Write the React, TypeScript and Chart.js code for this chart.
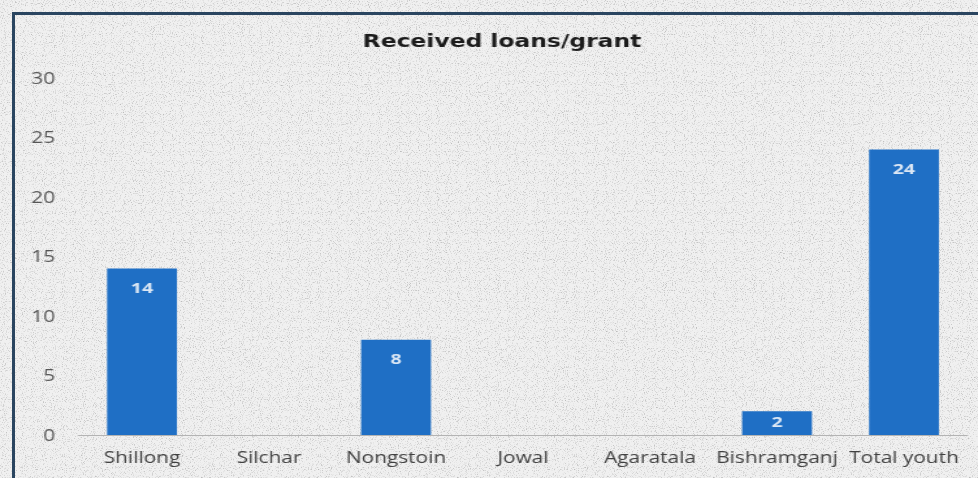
import React, { useEffect, useRef } from "react";
import { Chart, registerables } from "chart.js";

Chart.register(...registerables);

const categories = ["Shillong", "Silchar", "Nongstoin", "Jowal", "Agaratala", "Bishramganj", "Total youth"];
const values: (number | null)[] = [14, null, 8, null, null, 2, 24];
const yMin = 0;
const yMax = 30;
const yStep = 5;
const chartTitle = "Received loans/grant";

const PAGE_W = 978;
const PAGE_H = 478;
const CANVAS_W = 752; // drawn narrower, then stretched horizontally like the reference
const SX = PAGE_W / CANVAS_W;

const noiseSvg =
  "<svg xmlns='http://www.w3.org/2000/svg' width='256' height='256'>" +
  "<filter id='n'><feTurbulence type='fractalNoise' baseFrequency='0.9' numOctaves='2' stitchTiles='stitch'/>" +
  "<feColorMatrix values='0 0 0 0 0.5  0 0 0 0 0.5  0 0 0 0 0.5  3.2 0 0 0 -1.7'/></filter>" +
  "<rect width='100%' height='100%' filter='url(#n)'/></svg>";
const noiseUrl = `url("data:image/svg+xml,${encodeURIComponent(noiseSvg)}")`;

const titlePlugin = {
  id: "offsetTitle",
  afterDraw(chart: any) {
    const ctx = chart.ctx;
    ctx.save();
    ctx.font = "bold 18px 'DejaVu Sans'";
    ctx.fillStyle = "#1c1c1c";
    ctx.textAlign = "center";
    ctx.textBaseline = "middle";
    ctx.fillText(chartTitle, 502 / SX, 42);
    ctx.restore();
  },
};

const labelPlugin = {
  id: "barLabels",
  afterDatasetsDraw(chart: any) {
    const ctx = chart.ctx;
    const meta = chart.getDatasetMeta(0);
    ctx.save();
    ctx.font = "bold 15px 'Open Sans'";
    ctx.fillStyle = "#dbe7f5";
    ctx.textAlign = "center";
    ctx.textBaseline = "middle";
    meta.data.forEach((bar: any, i: number) => {
      const v = values[i];
      if (v === null || v === undefined) return;
      const top = bar.y;
      const bottom = bar.base;
      const y = Math.min(top + 20, (top + bottom) / 2);
      ctx.fillText(String(v), bar.x, y);
    });
    ctx.restore();
  },
};

export default function App() {
  const ref = useRef<HTMLCanvasElement | null>(null);

  useEffect(() => {
    if (!ref.current) return;
    const chart = new Chart(ref.current, {
      type: "bar",
      data: {
        labels: categories,
        datasets: [
          {
            data: values,
            backgroundColor: "#1f6fc5",
            borderWidth: 0,
            categoryPercentage: 1,
            barPercentage: 0.55,
          },
        ],
      },
      options: {
        animation: false,
        responsive: false,
        devicePixelRatio: 1,
        layout: { padding: { top: 78, right: PAGE_W / SX - 967.5 / SX, bottom: 0, left: 0 } },
        plugins: {
          legend: { display: false },
          tooltip: { enabled: false },
          title: { display: false },
        },
        scales: {
          x: {
            grid: { display: false, drawTicks: false },
            border: { display: true, color: "#b3b3b3", width: 1 },
            ticks: {
              color: "#404040",
              font: { family: "'Open Sans'", size: 16 },
              padding: 14,
              maxRotation: 0,
              autoSkip: false,
            },
            afterFit(scale: any) {
              scale.height = PAGE_H - 435;
            },
          },
          y: {
            min: yMin,
            max: yMax,
            grid: { display: false, drawTicks: false },
            border: { display: false },
            ticks: {
              stepSize: yStep,
              color: "#555555",
              font: { family: "'Open Sans'", size: 16 },
              padding: 18,
              labelOffset: 1,
            },
            afterFit(scale: any) {
              scale.width = 78.5 / SX;
            },
          },
        },
      },
      plugins: [labelPlugin, titlePlugin],
    } as any);
    return () => chart.destroy();
  }, []);

  return (
    <div
      style={{
        position: "fixed",
        left: 0,
        top: 0,
        width: PAGE_W,
        height: PAGE_H,
        backgroundColor: "#f0f0f0",
        backgroundImage: noiseUrl,
        overflow: "hidden",
      }}
    >
      <canvas
        ref={ref}
        width={CANVAS_W}
        height={PAGE_H}
        style={{ display: "block", width: PAGE_W + "px", height: PAGE_H + "px" }}
      />
      <div
        style={{
          position: "absolute",
          left: 12,
          top: 12,
          width: PAGE_W,
          height: PAGE_H,
          border: "3px solid #2a4560",
          pointerEvents: "none",
        }}
      />
    </div>
  );
}
